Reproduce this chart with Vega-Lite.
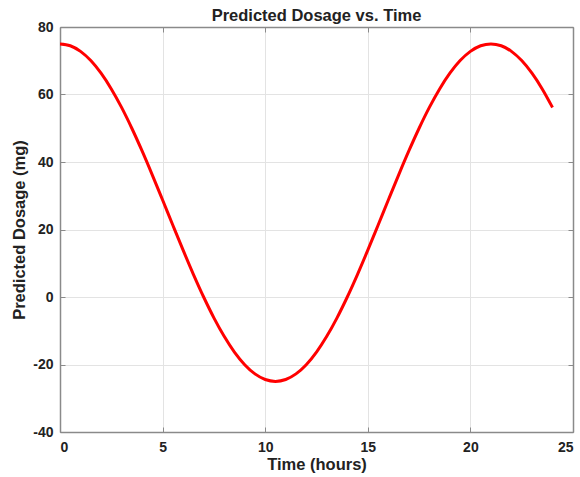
{
  "$schema": "https://vega.github.io/schema/vega-lite/v6.json",
  "width": 513,
  "height": 405,
  "autosize": {"type": "none"},
  "padding": {"left": 60, "top": 27, "right": 7, "bottom": 45},
  "background": "white",
  "title": {"text": "Predicted Dosage vs. Time", "font": "Liberation Sans", "fontSize": 16.5, "fontWeight": "bold", "color": "#222222", "offset": -4, "anchor": "middle"},
  "config": {
    "view": {"stroke": null},
    "axis": {"labelFont": "Liberation Sans", "labelFontSize": 14, "labelFontWeight": "bold", "labelColor": "#222222", "titleFont": "Liberation Sans", "titleFontSize": 16.5, "titleFontWeight": "bold", "titleColor": "#222222", "domainColor": "#8a8a8a", "domainWidth": 1.5, "tickColor": "#8a8a8a", "tickSize": -5, "tickWidth": 1, "gridColor": "#e3e3e3", "gridWidth": 1, "labelExpr": "replace(datum.label, '\u2212', '-')"}
  },
  "data": {"values": [
    {"t": 0, "y": 75}, {"t": 0.5, "y": 74.44}, {"t": 1, "y": 72.78}, {"t": 1.5, "y": 70.05}, {"t": 2, "y": 66.31},
    {"t": 2.5, "y": 61.65}, {"t": 3, "y": 56.17}, {"t": 3.5, "y": 50}, {"t": 4, "y": 43.27}, {"t": 4.5, "y": 36.13},
    {"t": 5, "y": 28.74}, {"t": 5.5, "y": 21.26}, {"t": 6, "y": 13.87}, {"t": 6.5, "y": 6.73}, {"t": 7, "y": 0},
    {"t": 7.5, "y": -6.17}, {"t": 8, "y": -11.65}, {"t": 8.5, "y": -16.31}, {"t": 9, "y": -20.05}, {"t": 9.5, "y": -22.78},
    {"t": 10, "y": -24.44}, {"t": 10.5, "y": -25}, {"t": 11, "y": -24.44}, {"t": 11.5, "y": -22.78}, {"t": 12, "y": -20.05},
    {"t": 12.5, "y": -16.31}, {"t": 13, "y": -11.65}, {"t": 13.5, "y": -6.17}, {"t": 14, "y": 0}, {"t": 14.5, "y": 6.73},
    {"t": 15, "y": 13.87}, {"t": 15.5, "y": 21.26}, {"t": 16, "y": 28.74}, {"t": 16.5, "y": 36.13}, {"t": 17, "y": 43.27},
    {"t": 17.5, "y": 50}, {"t": 18, "y": 56.17}, {"t": 18.5, "y": 61.65}, {"t": 19, "y": 66.31}, {"t": 19.5, "y": 70.05},
    {"t": 20, "y": 72.78}, {"t": 20.5, "y": 74.44}, {"t": 21, "y": 75}, {"t": 21.5, "y": 74.44}, {"t": 22, "y": 72.78},
    {"t": 22.5, "y": 70.05}, {"t": 23, "y": 66.31}, {"t": 23.5, "y": 61.65}, {"t": 24, "y": 56.17}
  ]},
  "layer": [
    {
      "mark": {"type": "line", "color": "#ff0000", "strokeWidth": 3, "interpolate": "monotone", "clip": true},
      "encoding": {
        "x": {"field": "t", "type": "quantitative", "scale": {"domain": [0, 25], "nice": false, "zero": false},
          "axis": {"orient": "bottom", "title": "Time (hours)", "values": [0, 5, 10, 15, 20, 25], "grid": true, "labelPadding": 13, "titlePadding": 2}},
        "y": {"field": "y", "type": "quantitative", "scale": {"domain": [-40, 80], "nice": false, "zero": false},
          "axis": {"orient": "left", "title": "Predicted Dosage (mg)", "values": [-40, -20, 0, 20, 40, 60, 80], "grid": true, "labelPadding": 12, "titlePadding": 5}}
      }
    },
    {
      "mark": {"type": "line", "opacity": 0},
      "encoding": {
        "x": {"field": "t", "type": "quantitative", "axis": {"orient": "top", "title": null, "labels": false, "grid": false, "values": [0, 5, 10, 15, 20, 25]}},
        "y": {"field": "y", "type": "quantitative", "axis": {"orient": "right", "title": null, "labels": false, "grid": false, "values": [-40, -20, 0, 20, 40, 60, 80]}}
      }
    }
  ],
  "resolve": {"axis": {"x": "independent", "y": "independent"}}
}
